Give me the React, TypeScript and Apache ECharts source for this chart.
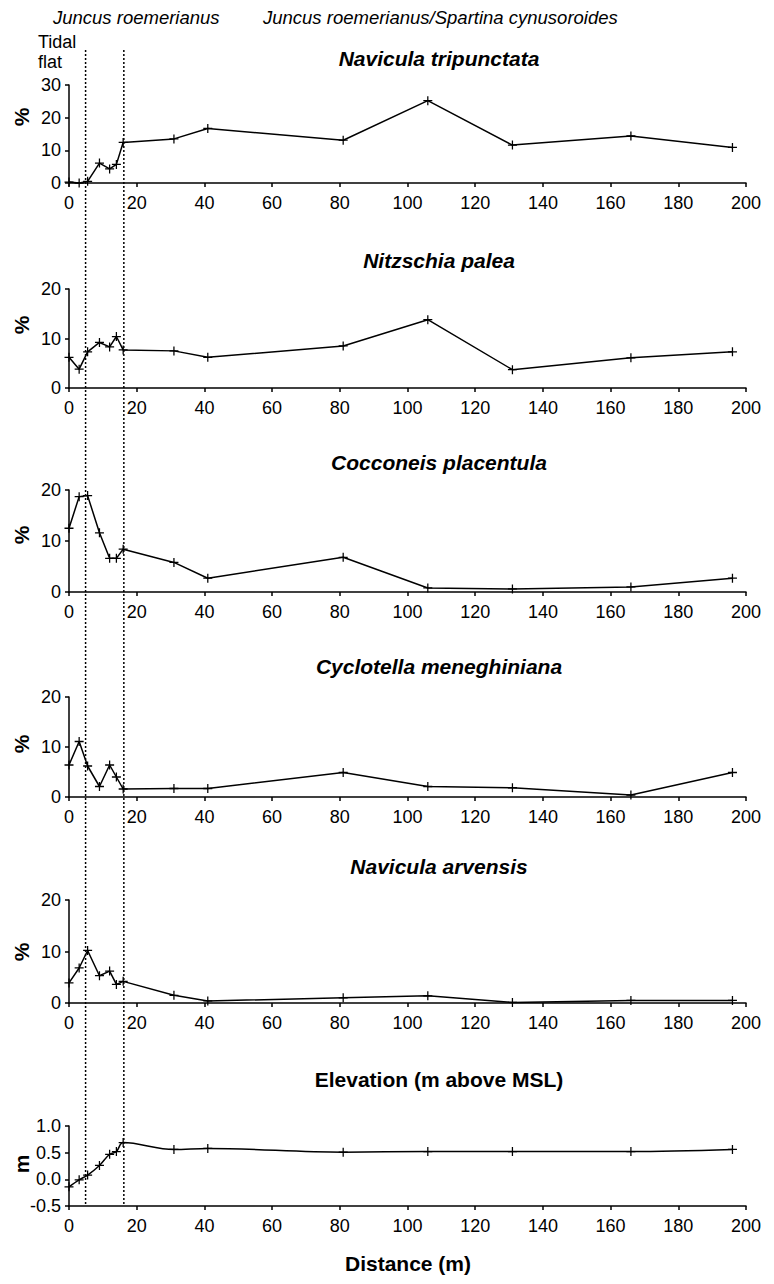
import React, { useEffect, useRef } from "react";
import * as echarts from "echarts";

// ---- data ----
const distances = [0, 3, 5.5, 9, 12, 14, 16, 31, 41, 81, 106, 131, 166, 196];
const naviculaTripunctata = [0.3, 0, 0.5, 6.1, 4.3, 5.7, 12.4, 13.5, 16.7, 13.1, 25.2, 11.6, 14.4, 10.9];
const nitzschiaPalea = [6.2, 3.8, 7.3, 9.2, 8.3, 10.4, 7.7, 7.5, 6.2, 8.5, 13.8, 3.7, 6.1, 7.3];
const cocconeisPlacentula = [12.5, 18.7, 18.9, 11.6, 6.6, 6.6, 8.4, 5.8, 2.7, 6.8, 0.8, 0.6, 1.0, 2.7];
const cyclotellaMeneghiniana = [6.4, 11.1, 6.2, 2.1, 6.4, 4.0, 1.6, 1.7, 1.7, 4.9, 2.1, 1.85, 0.4, 4.9];
const naviculaArvensis = [3.9, 6.8, 10.2, 5.3, 6.2, 3.6, 4.2, 1.5, 0.4, 1.0, 1.4, 0.1, 0.5, 0.5];
const elevation = [-0.14, -0.01, 0.08, 0.26, 0.47, 0.52, 0.69, 0.56, 0.58, 0.51, 0.52, 0.52, 0.52, 0.56];

const panelTitles = [
  "Navicula tripunctata",
  "Nitzschia palea",
  "Cocconeis placentula",
  "Cyclotella meneghiniana",
  "Navicula arvensis",
  "Elevation (m above MSL)",
];
const panelValues = [
  naviculaTripunctata,
  nitzschiaPalea,
  cocconeisPlacentula,
  cyclotellaMeneghiniana,
  naviculaArvensis,
  elevation,
];
const yMins = [0, 0, 0, 0, 0, -0.5];
const yMaxs = [30, 20, 20, 20, 20, 1.0];
const yIntervals = [10, 10, 10, 10, 10, 0.5];
const yUnits = ["%", "%", "%", "%", "%", "m"];
const xMin = 0;
const xMax = 200;
const xInterval = 20;
const zoneBoundaries = [4.9, 16.2];
const zoneLabels = ["Juncus roemerianus", "Juncus roemerianus/Spartina cynusoroides"];
const tidalFlatLines = ["Tidal", "flat"];
const xAxisTitle = "Distance (m)";

// ---- layout ----
const W = 774;
const H = 1284;
const FONT = "'Liberation Sans', Arial, Helvetica, sans-serif";
const gridLeft = 69;
const gridRight = 28;
const gridTops = [85, 289, 490, 697, 900, 1126];
const gridHeights = [98, 99, 102, 100, 103, 80];
const titleYs = [58, 260, 462, 666, 866, 1079];
const unitYs = [117, 325, 535, 744, 952, 1164];
const titleX = 439;
const plusSymbol = "path://M4.3,0H5.7V4.3H10V5.7H5.7V10H4.3V5.7H0V4.3H4.3Z";

export default function App() {
  const ref = useRef<HTMLDivElement>(null);

  useEffect(() => {
    document.body.style.margin = "0";
    if (!ref.current) return;
    const chart = echarts.init(ref.current, undefined, { renderer: "svg" });

    const axisLineStyle = { color: "#000", width: 1.5 };
    const grid = gridTops.map((t, i) => ({
      left: gridLeft,
      right: gridRight,
      top: t,
      height: gridHeights[i],
      containLabel: false,
    }));
    const xAxis = gridTops.map((_, i) => ({
      type: "value",
      gridIndex: i,
      min: xMin,
      max: xMax,
      interval: xInterval,
      axisLine: { show: true, onZero: false, lineStyle: axisLineStyle },
      axisTick: { show: true, length: 4, lineStyle: axisLineStyle },
      splitLine: { show: false },
      axisLabel: { color: "#000", fontSize: 18, fontFamily: FONT, margin: 11 },
    }));
    const yAxis = gridTops.map((_, i) => ({
      type: "value",
      gridIndex: i,
      min: yMins[i],
      max: yMaxs[i],
      interval: yIntervals[i],
      axisLine: { show: true, onZero: false, lineStyle: axisLineStyle },
      axisTick: { show: true, length: 4, lineStyle: axisLineStyle },
      splitLine: { show: false },
      axisLabel: {
        color: "#000",
        fontSize: 18,
        fontFamily: FONT,
        margin: 8,
        formatter: i === 5 ? (v: number) => v.toFixed(1) : (v: number) => String(v),
      },
    }));
    const series = panelValues.map((vals, i) => ({
      type: "line",
      xAxisIndex: i,
      yAxisIndex: i,
      data: distances.map((d, k) => [d, vals[k]]),
      smooth: i === 5 ? 0.35 : false,
      symbol: plusSymbol,
      symbolSize: 9,
      showSymbol: true,
      lineStyle: { color: "#000", width: 1.5 },
      itemStyle: { color: "#000" },
      clip: false,
    }));

    chart.setOption({
      animation: false,
      backgroundColor: "#fff",
      grid,
      xAxis,
      yAxis,
      series,
    });

    const graphic: any[] = [];
    // zone boundaries (dotted lines)
    zoneBoundaries.forEach((b) => {
      const px = chart.convertToPixel({ xAxisIndex: 0 }, b) as number;
      graphic.push({
        type: "line",
        shape: { x1: px, y1: 50, x2: px, y2: gridTops[5] + gridHeights[5] },
        style: { stroke: "#000", lineWidth: 1.5, lineDash: [2, 2] },
        z: 10,
      });
    });
    // zone labels
    graphic.push({
      type: "text",
      x: 53,
      y: 17,
      style: { text: zoneLabels[0], font: `italic 18.5px ${FONT}`, fill: "#000", textVerticalAlign: "middle" },
    });
    graphic.push({
      type: "text",
      x: 263,
      y: 17,
      style: { text: zoneLabels[1], font: `italic 18.5px ${FONT}`, fill: "#000", textVerticalAlign: "middle" },
    });
    tidalFlatLines.forEach((t, i) => {
      graphic.push({
        type: "text",
        x: 38,
        y: 42 + i * 20,
        style: { text: t, font: `18px ${FONT}`, fill: "#000", textVerticalAlign: "middle" },
      });
    });
    // panel titles & unit labels
    panelTitles.forEach((t, i) => {
      graphic.push({
        type: "text",
        x: titleX,
        y: titleYs[i],
        style: {
          text: t,
          font: `${i === 5 ? "" : "italic "}bold 21px ${FONT}`,
          fill: "#000",
          textAlign: "center",
          textVerticalAlign: "middle",
        },
      });
      graphic.push({
        type: "text",
        x: 21,
        y: unitYs[i],
        rotation: Math.PI / 2,
        style: {
          text: yUnits[i],
          font: `bold 21px ${FONT}`,
          fill: "#000",
          textAlign: "center",
          textVerticalAlign: "middle",
        },
      });
    });
    graphic.push({
      type: "text",
      x: 408,
      y: 1263,
      style: {
        text: xAxisTitle,
        font: `bold 21px ${FONT}`,
        fill: "#000",
        textAlign: "center",
        textVerticalAlign: "middle",
      },
    });

    chart.setOption({ graphic });

    return () => chart.dispose();
  }, []);

  return <div ref={ref} style={{ width: W, height: H }} />;
}
